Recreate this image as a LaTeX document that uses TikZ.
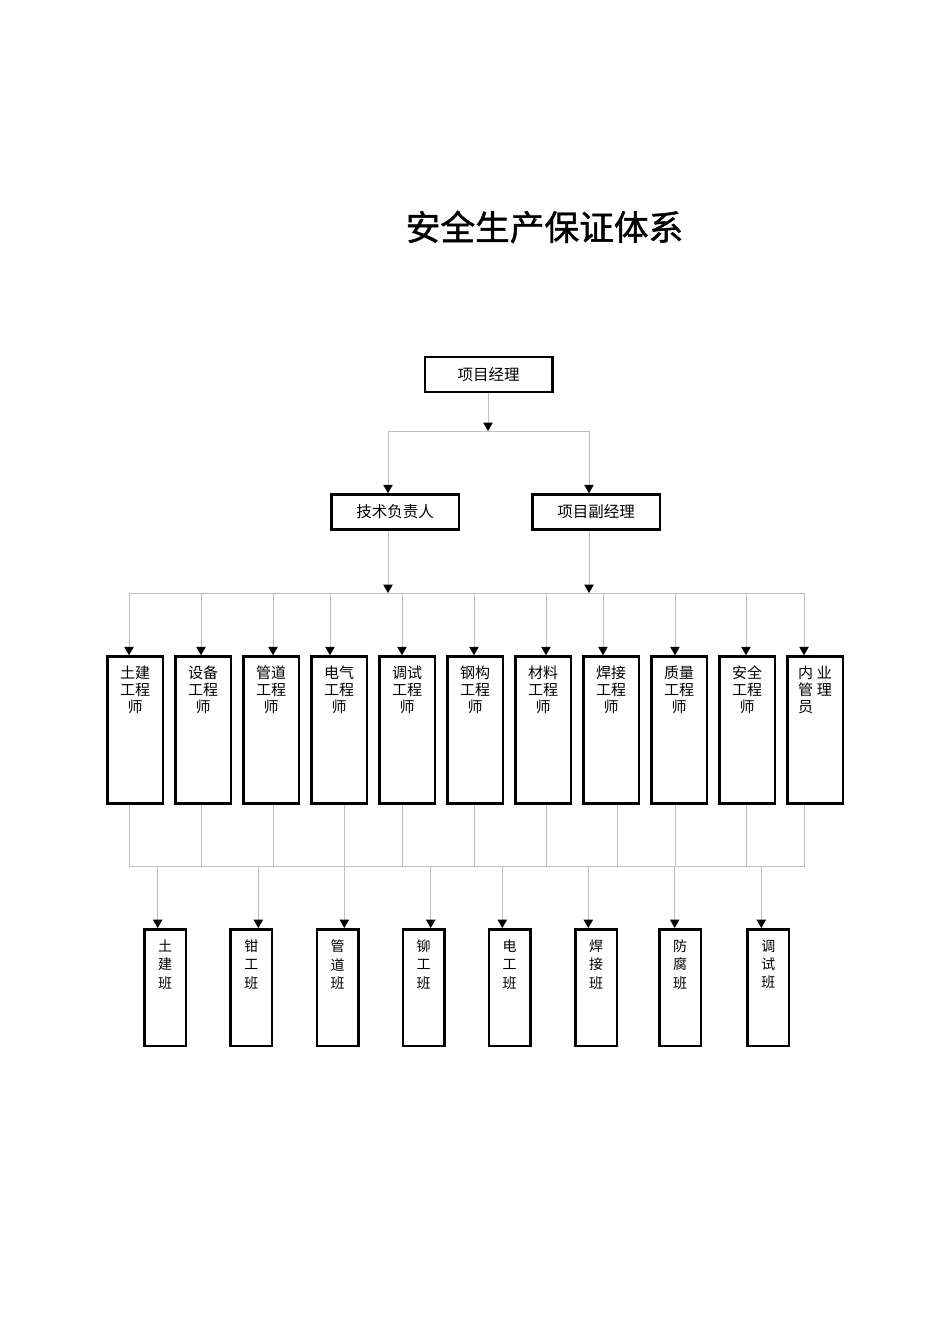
\documentclass[tikz,border=0pt]{standalone}
\usepackage{fontspec}
\setmainfont{Noto Sans CJK SC}
\newfontfamily\titlefont[FakeBold=1.2]{Noto Sans CJK SC}
\usetikzlibrary{arrows.meta}
\tikzset{
  box/.style={draw=black, line width=2.5pt, rectangle, inner sep=0pt},
  mgr/.style={box, minimum width=127.5pt, minimum height=35pt, font=\fontsize{15.5}{18}\selectfont},
  eng/.style={box, minimum width=55.5pt, minimum height=147pt},
  team/.style={box, minimum width=41.5pt, minimum height=116.5pt},
  engtext/.style={align=center, anchor=north, inner sep=0pt, font=\fontsize{15}{17}\selectfont},
  teamtext/.style={align=center, anchor=north, inner sep=0pt, font=\fontsize{14}{18.3}\selectfont},
  conn/.style={draw=gray!50, line width=1pt},
  arr/.style={conn, -{Triangle[length=8.5pt,width=9.5pt,color=black,fill=black]}}
}
\begin{document}
\begin{tikzpicture}[x=1pt,y=-1pt]
\useasboundingbox[fill=white] (0,0) rectangle (950,1344);
\node[font=\fontsize{34.7}{40}\titlefont] (title) at (544.5,227) {安全生产保证体系};
% managers
\node[mgr] (pm) at (488.5,374.5) {项目经理};
\node[mgr] (tech) at (395,512) {技术负责人};
\node[mgr] (dpm) at (596,512) {项目副经理};
\coordinate (b1L) at (388,431);
\coordinate (b1R) at (589,431);
\coordinate (b1M) at (488,431);
\draw[arr] (pm.south -| b1M) -- (b1M);
\draw[conn] (b1L) -- (b1R);
\draw[arr] (b1L) -- (b1L |- tech.north);
\draw[arr] (b1R) -- (b1R |- dpm.north);
% bus 2
\coordinate (b2L) at (129,593);
\coordinate (b2R) at (805,593);
\draw[arr] (b1L |- tech.south) -- (b1L |- b2L);
\draw[arr] (b1R |- dpm.south) -- (b1R |- b2L);
\draw[conn] (b2L) -- (b2R);
% bus 3
\coordinate (b3L) at (129,866);
\coordinate (b3R) at (805,866);
\draw[conn] (b3L) -- (b3R);
% engineers
\foreach \i/\ax/\bx in {1/129/129, 2/201/201, 3/273/273, 4/330/344,
  5/402/402, 6/474/474, 7/546/546, 8/603/617, 9/675/675, 10/746/746, 11/804/804}{
  \node[eng] (e\i) at ({135+68*(\i-1)},730) {};
  \coordinate (t\i) at (\ax,593);
  \coordinate (u\i) at (\bx,866);
  \draw[arr] (t\i) -- (t\i |- e\i.north);
  \draw[conn] (u\i |- e\i.south) -- (u\i);
}
\foreach \i/\t in {1/土建, 2/设备, 3/管道, 4/电气, 5/调试, 6/钢构, 7/材料, 8/焊接, 9/质量, 10/安全}{
  \node[engtext] (et\i) at ({135+68*(\i-1)},665.5) {\t\\工程\\师};
}
\node[engtext, align=left] (et11) at (815,665.5) {内\hspace{4pt}业\\管\hspace{4pt}理\\员};
% teams
\foreach \j/\cx/\ax/\a/\b/\c in {1/165/157.7/土/建/班, 2/251.3/258.3/钳/工/班, 3/337.5/344.3/管/道/班,
  4/423.7/430.7/铆/工/班, 5/509.7/502.3/电/工/班, 6/596/588.3/焊/接/班, 7/680/674.7/防/腐/班, 8/768.3/761.3/调/试/班}{
  \node[team] (g\j) at (\cx,987.5) {};
  \node[teamtext] (gt\j) at (\cx,939.7) {\a\\\b\\\c};
  \coordinate (d\j) at (\ax,866);
  \draw[arr] (d\j) -- (d\j |- g\j.north);
}
\end{tikzpicture}
\end{document}
